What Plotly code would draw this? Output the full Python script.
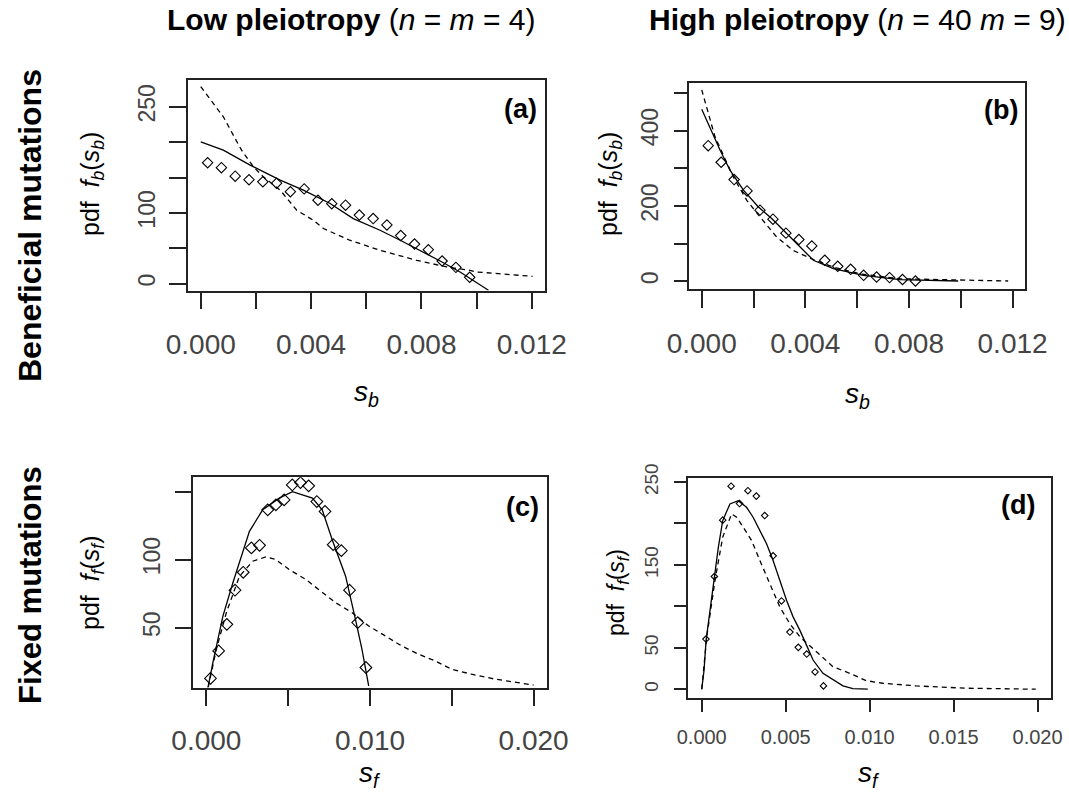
import plotly.graph_objects as go

W, H = 1069, 793

# ---------------- data ----------------
# (a) low pleiotropy, beneficial mutations
sb_pts_low = [0.00025, 0.00075, 0.00125, 0.00175, 0.00225, 0.00275, 0.00325, 0.00375, 0.00425, 0.00475,
              0.00525, 0.00575, 0.00625, 0.00675, 0.00725, 0.00775, 0.00825, 0.00875, 0.00925, 0.00975]
fb_pts_low = [171, 164, 152, 147, 144, 142, 130, 134, 118, 113, 111, 97, 92, 83, 68, 56, 48, 32, 23, 9]
sb_solid_low = [0, 0.00082, 0.00179, 0.00288, 0.00372, 0.00469, 0.00553, 0.0065, 0.00723, 0.00795,
                0.00868, 0.0094, 0.00988, 0.01043]
fb_solid_low = [200.6, 188.8, 167.6, 146.4, 132.2, 113.3, 92, 75.5, 61.4, 47.2, 32, 16.5, 4.7, -9.4]
sb_dash_low = [0, 0.00046, 0.00082, 0.00118, 0.00148, 0.00191, 0.00227, 0.00288, 0.00348, 0.00408,
               0.00445, 0.0054, 0.0065, 0.00783, 0.00892, 0.00976, 0.0100, 0.01203]
fb_dash_low = [278.5, 255, 236, 210, 188.8, 165.2, 151, 132.2, 103.8, 89.7, 77.9, 61.4, 47.2, 33, 23.6,
               18.8, 16.5, 10.3]

# (b) high pleiotropy, beneficial mutations
sb_pts_high = [0.00025, 0.00075, 0.00125, 0.00175, 0.00225, 0.00275, 0.00325, 0.00375, 0.00425, 0.00475,
               0.00525, 0.00575, 0.00625, 0.00675, 0.00725, 0.00775, 0.00825]
fb_pts_high = [360, 316, 270, 240, 189, 165, 128, 111, 94, 56, 40, 32, 16, 11.5, 10, 5, 1]
sb_solid_high = [0, 0.00032, 0.00071, 0.00109, 0.00161, 0.00218, 0.0027, 0.00328, 0.00379, 0.00431,
                 0.00508, 0.00624, 0.00765, 0.0099]
fb_solid_high = [456.5, 406, 348, 295, 242, 198, 167, 127, 91, 56, 34, 16, 4.5, 1]
sb_dash_high = [0, 0.00051, 0.00122, 0.00174, 0.00225, 0.00289, 0.00353, 0.00431, 0.00508, 0.00611,
                0.00765, 0.01183]
fb_dash_high = [508, 384, 277, 215, 171, 118, 82, 58, 38, 20, 7, 1]

# (c) low pleiotropy, fixed mutations
sf_pts_low = [0.00025, 0.00075, 0.00125, 0.00175, 0.00225, 0.00275, 0.00325, 0.00375, 0.00425, 0.00475,
              0.00525, 0.00575, 0.00625, 0.00675, 0.00725, 0.00775, 0.00825, 0.00875, 0.00925, 0.00975]
ff_pts_low = [12.7, 32.9, 52.4, 77.5, 90.7, 108.6, 110.5, 136.6, 140.3, 143.9, 154.9, 156.6, 154.2,
              142.7, 135.4, 111, 106.6, 77.5, 53.7, 20.7]
sf_solid_low = [0, 0.0004, 0.00101, 0.00162, 0.00263, 0.00344, 0.00445, 0.00526, 0.00648, 0.00708,
                0.00769, 0.00851, 0.00911, 0.00951, 0.00992]
ff_solid_low = [0, 24.4, 58.5, 83, 120.8, 136.6, 145.2, 150, 145.2, 136.6, 114.6, 87.8, 56, 34.1, 7.2]
sf_dash_low = [0, 0.00061, 0.00122, 0.00202, 0.00283, 0.00365, 0.00425, 0.00506, 0.00608, 0.00688,
               0.0079, 0.00891, 0.00992, 0.01094, 0.01194, 0.01296, 0.01397, 0.01498, 0.0162, 0.01762,
               0.01883, 0.0200]
ff_dash_low = [0, 34.1, 61, 87.8, 98.8, 102, 100, 92.7, 85.4, 78, 68.3, 61, 51.2, 43.9, 36.5, 30.5,
               25.6, 19.5, 15.8, 12.2, 9.7, 7.8]

# (d) high pleiotropy, fixed mutations
sf_pts_high = [0.00025, 0.00075, 0.00125, 0.00175, 0.00225, 0.00275, 0.00325, 0.00375, 0.00425, 0.00475,
               0.00525, 0.00575, 0.00625, 0.00675, 0.00725]
ff_pts_high = [60.5, 136, 204, 245, 224, 239.5, 233, 209.5, 161, 106.5, 69, 50.5, 42.4, 20.8, 4]
sf_solid_high = [0, 0.00014, 0.00026, 0.00049, 0.00075, 0.00099, 0.00125, 0.00168, 0.00217, 0.00267,
                 0.00306, 0.00346, 0.00386, 0.00425, 0.00465, 0.00505, 0.00544, 0.00584, 0.00624,
                 0.00663, 0.00722, 0.00781, 0.00841, 0.009, 0.00989]
ff_solid_high = [0, 23.2, 59.3, 95.3, 135.4, 171.4, 203.5, 223.6, 227.5, 219.5, 207.5, 191.5, 175.5,
                 155.4, 131.4, 107.3, 87.3, 71.3, 53.2, 35.2, 19.2, 11.2, 4, 0.7, 0]
sf_dash_high = [0, 0.0003, 0.00079, 0.00125, 0.00178, 0.00208, 0.00247, 0.00297, 0.00346, 0.00406,
                0.00465, 0.00524, 0.00584, 0.00683, 0.00781, 0.00881, 0.0098, 0.01078, 0.01277,
                0.01574, 0.01989]
ff_dash_high = [0, 63.3, 131.4, 183.5, 211.6, 207.5, 195.5, 179.5, 155.4, 127.4, 99.3, 79.3, 63.3,
                45.2, 27.2, 19.2, 10.3, 7.2, 4, 1.2, 0]

# tick values / labels
xt_b = [0, 0.002, 0.004, 0.006, 0.008, 0.010, 0.012]
xl_b = ["0.000", "", "0.004", "", "0.008", "", "0.012"]
xt_f = [0, 0.005, 0.010, 0.015, 0.020]
xl_f_low = ["0.000", "", "0.010", "", "0.020"]
xl_f_high = ["0.000", "0.005", "0.010", "0.015", "0.020"]
yt_a = [0, 50, 100, 150, 200, 250]
yl_a = ["0", "", "100", "", "", "250"]
yt_b = [0, 100, 200, 300, 400, 500]
yl_b = ["0", "", "200", "", "400", ""]
yt_c = [50, 100, 150]
yl_c = ["50", "100", ""]
yt_d = [0, 50, 100, 150, 200, 250]
yl_d = ["0", "50", "", "150", "", "250"]

# ---------------- layout helpers ----------------
FONT = "Liberation Sans, Arial, sans-serif"
TICKCOL = "#444444"


def px_x(x):
    return x / W


def px_y(y):
    return 1 - y / H


# panel boxes in pixels: (left, top, right, bottom)
boxes = {
    "a": (187.5, 80.0, 545.0, 290.7),
    "b": (689.3, 82.7, 1025.0, 289.3),
    "c": (193.3, 477.3, 546.7, 687.5),
    "d": (688.3, 478.3, 1051.0, 697.5),
}

fig = go.Figure()

panels = [
    # key, suffix, xrange, yrange, pts, solid, dash, xticks, yticks,
    # x font, y font, x ticklen, y ticklen, marker size, x standoff, y standoff
    ("a", "", [-0.00048, 0.01248], [-10, 288],
     (sb_pts_low, fb_pts_low), (sb_solid_low, fb_solid_low), (sb_dash_low, fb_dash_low),
     (xt_b, xl_b), (yt_a, yl_a), 28, 23, 17, 17, 8, 11, 5),
    ("b", "2", [-0.00048, 0.01248], [-21, 527],
     (sb_pts_high, fb_pts_high), (sb_solid_high, fb_solid_high), (sb_dash_high, fb_dash_high),
     (xt_b, xl_b), (yt_b, yl_b), 28, 23, 17, 14, 8, 11, 6),
    ("c", "3", [-0.0008, 0.0208], [6, 160.5],
     (sf_pts_low, ff_pts_low), (sf_solid_low, ff_solid_low), (sf_dash_low, ff_dash_low),
     (xt_f, xl_f_low), (yt_c, yl_c), 28, 23, 17, 17, 9, 10, 5),
    ("d", "4", [-0.0008, 0.0208], [-10, 254.5],
     (sf_pts_high, ff_pts_high), (sf_solid_high, ff_solid_high), (sf_dash_high, ff_dash_high),
     (xt_f, xl_f_high), (yt_d, yl_d), 20, 19, 13, 13, 5, 8, 8),
]

for (key, sfx, xr, yr, pts, solid, dash, xt, yt, xfs, yfs, xtl, ytl, ms, xso, yso) in panels:
    xa, ya = "x" + sfx, "y" + sfx
    fig.add_trace(go.Scatter(x=dash[0], y=dash[1], mode="lines", xaxis=xa, yaxis=ya,
                             line=dict(color="black", width=1.3, dash="5px,4px"), showlegend=False))
    fig.add_trace(go.Scatter(x=solid[0], y=solid[1], mode="lines", xaxis=xa, yaxis=ya,
                             line=dict(color="black", width=1.3), showlegend=False))
    fig.add_trace(go.Scatter(x=pts[0], y=pts[1], mode="markers", xaxis=xa, yaxis=ya,
                             marker=dict(symbol="diamond-open", size=ms, color="black",
                                         line=dict(width=1.1, color="black")),
                             showlegend=False))
    l, t, r, b = boxes[key]
    fig.update_layout(**{
        "xaxis" + sfx: dict(domain=[px_x(l), px_x(r)], range=xr, anchor=ya, automargin=False,
                            showline=True, linecolor="#222", linewidth=1.5, mirror=True,
                            ticks="outside", ticklen=xtl, tickwidth=1.5, tickcolor="#222",
                            tickvals=xt[0], ticktext=xt[1], showgrid=False, zeroline=False,
                            tickfont=dict(family=FONT, size=xfs, color=TICKCOL),
                            ticklabelstandoff=xso),
        "yaxis" + sfx: dict(domain=[px_y(b), px_y(t)], range=yr, anchor=xa, automargin=False,
                            showline=True, linecolor="#222", linewidth=1.5, mirror=True,
                            ticks="outside", ticklen=ytl, tickwidth=1.5, tickcolor="#222",
                            tickvals=yt[0], ticktext=yt[1], showgrid=False, zeroline=False,
                            tickangle=-90,
                            tickfont=dict(family=FONT, size=yfs, color=TICKCOL),
                            ticklabelstandoff=yso),
    })

annotations = []


def ann(text, x, y, size, angle=0, color="black"):
    annotations.append(dict(text=text, x=px_x(x), y=px_y(y), xref="paper", yref="paper",
                            showarrow=False, xanchor="center", yanchor="middle", textangle=angle,
                            font=dict(family=FONT, size=size, color=color)))


# column titles
ann("<b>Low pleiotropy</b> (<i>n</i> = <i>m</i> = 4)", 351, 19, 30)
ann("<b>High pleiotropy</b> (<i>n</i> = 40 <i>m</i> = 9)", 857, 19, 30)
# row titles
ann("<b>Beneficial mutations</b>", 30, 226, 32, angle=-90)
ann("<b>Fixed mutations</b>", 30, 585, 31, angle=-90)
# y-axis titles
ann("pdf  <i>f</i><sub><i>b</i></sub>(<i>s</i><sub><i>b</i></sub>)", 92, 184, 25, angle=-90)
ann("pdf  <i>f</i><sub><i>b</i></sub>(<i>s</i><sub><i>b</i></sub>)", 610, 184, 25, angle=-90)
ann("pdf  <i>f</i><sub><i>f</i></sub>(<i>s</i><sub><i>f</i></sub>)", 92, 583, 25, angle=-90)
ann("pdf  <i>f</i><sub><i>f</i></sub>(<i>s</i><sub><i>f</i></sub>)", 617, 593, 23, angle=-90)
# x-axis titles
ann("<i>s</i><sub><i>b</i></sub>", 366, 393, 28)
ann("<i>s</i><sub><i>b</i></sub>", 857, 395, 28)
ann("<i>s</i><sub><i>f</i></sub>", 370, 774, 28)
ann("<i>s</i><sub><i>f</i></sub>", 869, 774, 28)
# panel labels
ann("<b>(a)</b>", 520, 109, 27)
ann("<b>(b)</b>", 1001, 110, 27)
ann("<b>(c)</b>", 522, 507, 27)
ann("<b>(d)</b>", 1018, 505, 27)

fig.update_layout(template="none", width=W, height=H,
                  margin=dict(l=0, r=0, t=0, b=0, autoexpand=False),
                  paper_bgcolor="white", plot_bgcolor="white",
                  annotations=annotations, showlegend=False)

fig.write_html("out.html", config={"displayModeBar": False},
               post_script="document.body.style.margin='0';")
